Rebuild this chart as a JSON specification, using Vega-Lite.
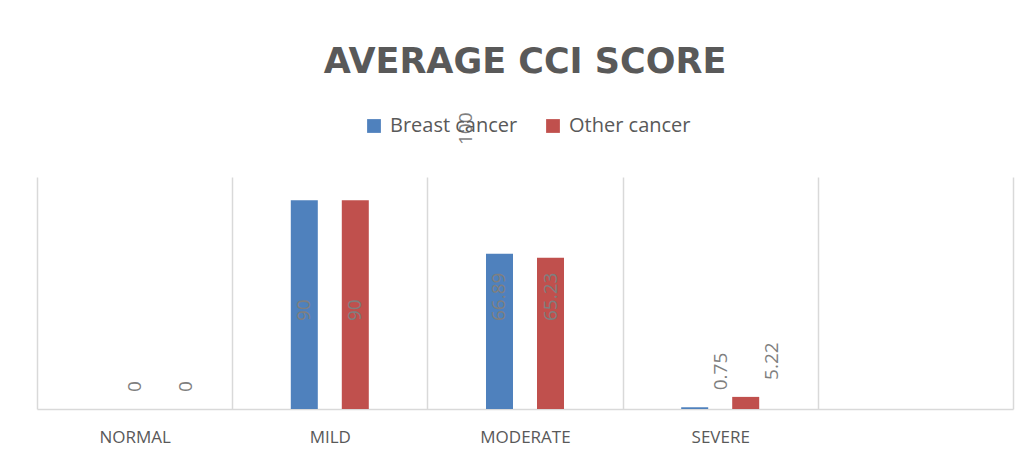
{
  "$schema": "https://vega.github.io/schema/vega-lite/v6.json",
  "autosize": {"type": "none"},
  "padding": {"left": 37, "top": 177, "right": 17, "bottom": 55},
  "width": 976,
  "height": 232,
  "background": "white",
  "title": {
    "text": "AVERAGE CCI  SCORE",
    "font": "DejaVu Sans",
    "fontSize": 35,
    "fontWeight": "bold",
    "color": "#595959",
    "anchor": "middle",
    "frame": "group",
    "offset": 32
  },
  "config": {
    "view": {"stroke": null},
    "font": "Open Sans"
  },
  "datasets": {
    "bars": [
      {"category": "NORMAL", "series": "Breast cancer", "value": 0, "label": "0"},
      {"category": "NORMAL", "series": "Other cancer", "value": 0, "label": "0"},
      {"category": "MILD", "series": "Breast cancer", "value": 90, "label": "90"},
      {"category": "MILD", "series": "Other cancer", "value": 90, "label": "90"},
      {"category": "MODERATE", "series": "Breast cancer", "value": 66.89, "label": "66.89"},
      {"category": "MODERATE", "series": "Other cancer", "value": 65.23, "label": "65.23"},
      {"category": "SEVERE", "series": "Breast cancer", "value": 0.75, "label": "0.75"},
      {"category": "SEVERE", "series": "Other cancer", "value": 5.22, "label": "5.22"}
    ],
    "extra": [
      {"category": "MODERATE", "value": 100, "label": "100"}
    ]
  },
  "layer": [
    {
      "data": {"name": "bars"},
      "mark": {"type": "bar"},
      "encoding": {
        "x": {
          "field": "category",
          "type": "nominal",
          "sort": null,
          "scale": {"domain": ["NORMAL", "MILD", "MODERATE", "SEVERE", " "], "paddingInner": 0, "paddingOuter": 0},
          "axis": {
            "title": null,
            "labelAngle": 0,
            "labelFont": "Open Sans",
            "labelFontSize": 17,
            "labelColor": "#595959",
            "labelPadding": 20,
            "ticks": false,
            "domainColor": "#d9d9d9",
            "domainWidth": 1.5,
            "grid": true,
            "gridColor": "#d9d9d9",
            "gridWidth": 1.5,
            "tickBand": "extent"
          }
        },
        "xOffset": {
          "field": "series",
          "type": "nominal",
          "scale": {"domain": ["pad-left", "Breast cancer", "Other cancer", "pad-right"], "paddingInner": 0.4706, "paddingOuter": 0.149}
        },
        "y": {
          "field": "value",
          "type": "quantitative",
          "scale": {"domain": [0, 100], "nice": false},
          "axis": null
        },
        "color": {
          "field": "series",
          "type": "nominal",
          "scale": {"domain": ["Breast cancer", "Other cancer"], "range": ["#4F81BD", "#C0504D"]},
          "legend": {
            "title": null,
            "orient": "none",
            "direction": "horizontal",
            "legendX": 327,
            "legendY": -61,
            "symbolType": "square",
            "symbolSize": 190,
            "symbolStrokeWidth": 0,
            "labelFont": "Open Sans",
            "labelFontSize": 20,
            "labelColor": "#595959",
            "labelOffset": 6,
            "columnPadding": 25,
            "padding": 0
          }
        }
      }
    },
    {
      "data": {"name": "bars"},
      "transform": [{"filter": "datum.value >= 20"}],
      "mark": {"type": "text", "angle": 270, "align": "left", "baseline": "middle", "dx": 88, "fontSize": 19, "color": "#7f7f7f", "font": "Open Sans"},
      "encoding": {
        "x": {"field": "category", "type": "nominal", "sort": null},
        "xOffset": {"field": "series", "type": "nominal"},
        "y": {"datum": 0},
        "text": {"field": "label"}
      }
    },
    {
      "data": {"name": "bars"},
      "transform": [{"filter": "datum.value < 20"}],
      "mark": {"type": "text", "angle": 270, "align": "left", "baseline": "middle", "dx": 17, "dy": 26, "fontSize": 19, "color": "#7f7f7f", "font": "Open Sans"},
      "encoding": {
        "x": {"field": "category", "type": "nominal", "sort": null},
        "xOffset": {"field": "series", "type": "nominal"},
        "y": {"field": "value", "type": "quantitative"},
        "text": {"field": "label"}
      }
    },
    {
      "data": {"name": "extra"},
      "mark": {"type": "text", "angle": 270, "align": "left", "baseline": "middle", "dx": 32, "dy": -59, "fontSize": 19, "color": "#7f7f7f", "font": "Open Sans"},
      "encoding": {
        "x": {"field": "category", "type": "nominal", "sort": null},
        "y": {"field": "value", "type": "quantitative"},
        "text": {"field": "label"}
      }
    }
  ]
}
